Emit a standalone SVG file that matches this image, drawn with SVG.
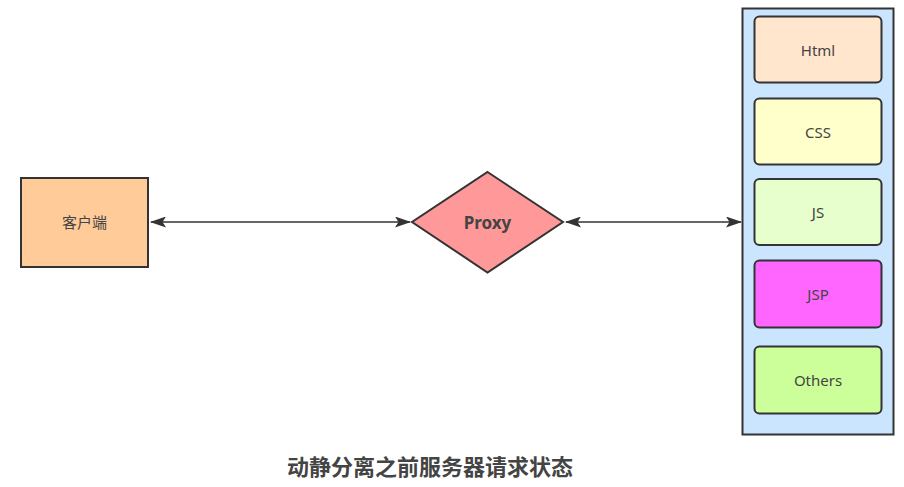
<svg xmlns="http://www.w3.org/2000/svg" width="904" height="487" viewBox="0 0 904 487">
<style>
.n{stroke:#333;stroke-width:2}
.t{font-family:"Noto Sans","Liberation Sans","Noto Sans CJK SC",sans-serif;fill:#444;text-anchor:middle;dominant-baseline:central}
.c{stroke:#333;stroke-width:1.6;fill:none}
</style>
<defs>
<marker id="ah" viewBox="0 0 16 11" refX="15" refY="5.5" markerWidth="16" markerHeight="11" markerUnits="userSpaceOnUse" orient="auto-start-reverse">
<path d="M0,0 L16,5.5 L0,11 L3.5,5.5 Z" fill="#333"/>
</marker>
</defs>
<rect width="904" height="487" fill="#fff"/>
<g id="connectors">
<line class="c" x1="151" y1="222" x2="410" y2="222" marker-start="url(#ah)" marker-end="url(#ah)"/>
<line class="c" x1="566" y1="222" x2="741" y2="222" marker-start="url(#ah)" marker-end="url(#ah)"/>
</g>
<g id="client">
<rect class="n" x="21" y="178" width="127" height="89" fill="#FFCC99"/>
<text class="t" x="84.5" y="222" font-size="15">客户端</text>
</g>
<g id="proxy">
<polygon class="n" points="487.5,172 563,222 487.5,272.5 412,222" fill="#FF9999"/>
<text class="t" x="487.5" y="222" font-size="17" font-weight="bold">Proxy</text>
</g>
<g id="server">
<rect class="n" x="742.5" y="8.5" width="151" height="426" fill="#CCE5FF"/>
</g>
<g id="html">
<rect class="n" x="754.5" y="16.5" width="127" height="66" rx="5" fill="#FFE6CC"/>
<text class="t" x="818" y="50" font-size="15">Html</text>
</g>
<g id="css">
<rect class="n" x="754.5" y="98.5" width="127" height="66" rx="5" fill="#FFFFCC"/>
<text class="t" x="818" y="132" font-size="15">CSS</text>
</g>
<g id="js">
<rect class="n" x="754.5" y="179" width="127" height="66" rx="5" fill="#E6FFCC"/>
<text class="t" x="818" y="212" font-size="15">JS</text>
</g>
<g id="jsp">
<rect class="n" x="754.5" y="260.5" width="127" height="67" rx="5" fill="#FF66FF"/>
<text class="t" x="818" y="294" font-size="15">JSP</text>
</g>
<g id="others">
<rect class="n" x="754.5" y="346.5" width="127" height="67" rx="5" fill="#CCFF99"/>
<text class="t" x="818" y="380" font-size="15">Others</text>
</g>
<g id="title">
<text class="t" x="430" y="466" font-size="22" font-weight="bold" font-family="'Noto Sans CJK SC',sans-serif" fill="#333">动静分离之前服务器请求状态</text>
</g>
</svg>
